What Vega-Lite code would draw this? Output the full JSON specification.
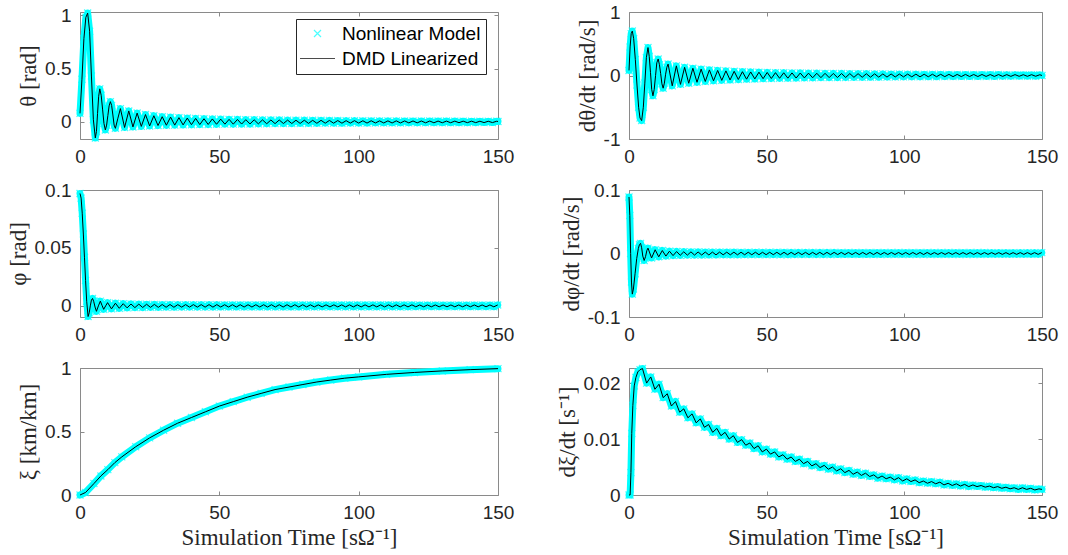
{
"$schema": "https://vega.github.io/schema/vega-lite/v6.json",
"background": "white",
"padding": {"left": 6, "top": 2, "right": 5, "bottom": 5},
"columns": 2,
"spacing": {"row": 51, "column": 131},
"bounds": "flush",
"config": {
 "view": {"stroke": "#8a8a8a", "strokeWidth": 1},
 "axis": {"domain": false, "grid": false, "labelFont": "Liberation Sans", "labelFontSize": 19, "labelColor": "#262626", "titleFont": "Liberation Serif", "titleFontSize": 23, "titleFontWeight": "normal", "titleColor": "#262626", "tickColor": "#8a8a8a", "tickSize": -4, "tickWidth": 1, "labelPadding": 13, "titlePadding": 4, "labelFlush": false, "labelOverlap": false, "labelExpr": "'' + datum.value"},
 "axisX": {"labelPadding": 12}
},
"datasets": {
"th": [{"t":0,"v":0.08},{"t":0.7,"v":0.4},{"t":1.4,"v":0.78},{"t":2.1,"v":0.98},{"t":2.75,"v":1.02},{"t":3.45,"v":0.85},{"t":4.1,"v":0.43},{"t":4.8,"v":0.02},{"t":5.5,"v":-0.15},{"t":5.9,"v":-0.09},{"t":6.3,"v":0.08},{"t":6.7,"v":0.24},{"t":7.1,"v":0.31},{"t":7.6,"v":0.25},{"t":8.1,"v":0.12},{"t":8.6,"v":-0.015},{"t":9.1,"v":-0.075},{"t":9.55,"v":-0.03},{"t":10,"v":0.06},{"t":10.45,"v":0.15},{"t":10.9,"v":0.19},{"t":11.35,"v":0.155},{"t":11.8,"v":0.065},{"t":12.25,"v":-0.03},{"t":12.7,"v":-0.06},{"t":13.6,"v":0.035},{"t":14.5,"v":0.125},
{"t":16,"v":-0.052},{"t":17.5,"v":0.103},{"t":19,"v":-0.047},{"t":20.5,"v":0.083},{"t":22,"v":-0.042},{"t":23.5,"v":0.069},{"t":25,"v":-0.038},{"t":26.5,"v":0.058},{"t":28,"v":-0.034},{"t":29.5,"v":0.049},{"t":31,"v":-0.031},{"t":32.5,"v":0.045},{"t":34,"v":-0.03},{"t":35.5,"v":0.04},{"t":37,"v":-0.028},{"t":38.5,"v":0.036},{"t":40,"v":-0.026},{"t":41.5,"v":0.033},{"t":43,"v":-0.025},{"t":44.5,"v":0.03},{"t":46,"v":-0.024},{"t":47.5,"v":0.028},{"t":49,"v":-0.022},{"t":50.5,"v":0.026},{"t":52,"v":-0.021},{"t":53.5,"v":0.024},{"t":55,"v":-0.021},{"t":56.5,"v":0.023},{"t":58,"v":-0.02},{"t":59.5,"v":0.021},{"t":61,"v":-0.019},{"t":62.5,"v":0.02},{"t":64,"v":-0.018},{"t":65.5,"v":0.019},{"t":67,"v":-0.017},{"t":68.5,"v":0.018},{"t":70,"v":-0.016},{"t":71.5,"v":0.018},{"t":73,"v":-0.015},{"t":74.5,"v":0.017},{"t":76,"v":-0.015},{"t":77.5,"v":0.016},{"t":79,"v":-0.014},{"t":80.5,"v":0.016},{"t":82,"v":-0.014},{"t":83.5,"v":0.015},{"t":85,"v":-0.013},{"t":86.5,"v":0.015},{"t":88,"v":-0.012},{"t":89.5,"v":0.014},{"t":91,"v":-0.012},{"t":92.5,"v":0.013},{"t":94,"v":-0.012},{"t":95.5,"v":0.012},{"t":97,"v":-0.011},{"t":98.5,"v":0.012},{"t":100,"v":-0.011},{"t":101.5,"v":0.011},{"t":103,"v":-0.011},{"t":104.5,"v":0.011},{"t":106,"v":-0.01},{"t":107.5,"v":0.01},{"t":109,"v":-0.01},{"t":110.5,"v":0.01},{"t":112,"v":-0.01},{"t":113.5,"v":0.01},{"t":115,"v":-0.0095},{"t":116.5,"v":0.0094},{"t":118,"v":-0.0092},{"t":119.5,"v":0.0091},{"t":121,"v":-0.0089},{"t":122.5,"v":0.0088},{"t":124,"v":-0.0086},{"t":125.5,"v":0.0085},{"t":127,"v":-0.0083},{"t":128.5,"v":0.0082},{"t":130,"v":-0.008},{"t":131.5,"v":0.0079},{"t":133,"v":-0.0077},{"t":134.5,"v":0.0076},{"t":136,"v":-0.0074},{"t":137.5,"v":0.0073},{"t":139,"v":-0.0071},{"t":140.5,"v":0.007},{"t":142,"v":-0.0068},{"t":143.5,"v":0.0067},{"t":145,"v":-0.0065},{"t":146.5,"v":0.0064},{"t":148,"v":-0.0062},{"t":149.5,"v":0.0061},{"t":150,"v":0.004}],
"dth": [{"t":0,"v":0.08},{"t":0.4,"v":0.45},{"t":0.8,"v":0.66},{"t":1.2,"v":0.7},{"t":1.7,"v":0.58},{"t":2.3,"v":0.25},{"t":2.9,"v":-0.15},{"t":3.5,"v":-0.5},{"t":4,"v":-0.67},{"t":4.6,"v":-0.71},{"t":5.2,"v":-0.5},{"t":5.75,"v":-0.12},{"t":6.3,"v":0.28},{"t":6.9,"v":0.44},{"t":7.35,"v":0.3},{"t":7.8,"v":0.05},{"t":8.25,"v":-0.22},{"t":8.7,"v":-0.32},{"t":9.15,"v":-0.22},{"t":9.65,"v":0},{"t":10.1,"v":0.2},{"t":10.6,"v":0.26},{"t":11.05,"v":0.17},{"t":11.5,"v":0.03},{"t":11.95,"v":-0.13},{"t":12.4,"v":-0.2},{"t":12.85,"v":-0.12},{"t":13.3,"v":0.02},{"t":13.75,"v":0.13},{"t":14.2,"v":0.18},
{"t":15.7,"v":-0.163},{"t":17.2,"v":0.152},{"t":18.7,"v":-0.14},{"t":20.2,"v":0.129},{"t":21.7,"v":-0.122},{"t":23.2,"v":0.114},{"t":24.7,"v":-0.107},{"t":26.2,"v":0.1},{"t":27.7,"v":-0.094},{"t":29.2,"v":0.088},{"t":30.7,"v":-0.083},{"t":32.2,"v":0.08},{"t":33.7,"v":-0.077},{"t":35.2,"v":0.073},{"t":36.7,"v":-0.07},{"t":38.2,"v":0.066},{"t":39.7,"v":-0.063},{"t":41.2,"v":0.06},{"t":42.7,"v":-0.058},{"t":44.2,"v":0.056},{"t":45.7,"v":-0.054},{"t":47.2,"v":0.052},{"t":48.7,"v":-0.05},{"t":50.2,"v":0.048},{"t":51.7,"v":-0.047},{"t":53.2,"v":0.045},{"t":54.7,"v":-0.044},{"t":56.2,"v":0.043},{"t":57.7,"v":-0.042},{"t":59.2,"v":0.041},{"t":60.7,"v":-0.04},{"t":62.2,"v":0.039},{"t":63.7,"v":-0.038},{"t":65.2,"v":0.037},{"t":66.7,"v":-0.036},{"t":68.2,"v":0.035},{"t":69.7,"v":-0.034},{"t":71.2,"v":0.034},{"t":72.7,"v":-0.033},{"t":74.2,"v":0.032},{"t":75.7,"v":-0.032},{"t":77.2,"v":0.031},{"t":78.7,"v":-0.031},{"t":80.2,"v":0.03},{"t":81.7,"v":-0.029},{"t":83.2,"v":0.029},{"t":84.7,"v":-0.028},{"t":86.2,"v":0.028},{"t":87.7,"v":-0.027},{"t":89.2,"v":0.026},{"t":90.7,"v":-0.026},{"t":92.2,"v":0.025},{"t":93.7,"v":-0.025},{"t":95.2,"v":0.024},{"t":96.7,"v":-0.023},{"t":98.2,"v":0.023},{"t":99.7,"v":-0.022},{"t":101.2,"v":0.022},{"t":102.7,"v":-0.021},{"t":104.2,"v":0.021},{"t":105.7,"v":-0.021},{"t":107.2,"v":0.02},{"t":108.7,"v":-0.02},{"t":110.2,"v":0.02},{"t":111.7,"v":-0.019},{"t":113.2,"v":0.019},{"t":114.7,"v":-0.018},{"t":116.2,"v":0.018},{"t":117.7,"v":-0.018},{"t":119.2,"v":0.017},{"t":120.7,"v":-0.017},{"t":122.2,"v":0.017},{"t":123.7,"v":-0.016},{"t":125.2,"v":0.016},{"t":126.7,"v":-0.016},{"t":128.2,"v":0.016},{"t":129.7,"v":-0.015},{"t":131.2,"v":0.015},{"t":132.7,"v":-0.015},{"t":134.2,"v":0.015},{"t":135.7,"v":-0.014},{"t":137.2,"v":0.014},{"t":138.7,"v":-0.014},{"t":140.2,"v":0.014},{"t":141.7,"v":-0.013},{"t":143.2,"v":0.013},{"t":144.7,"v":-0.013},{"t":146.2,"v":0.013},{"t":147.7,"v":-0.012},{"t":149.2,"v":0.012},{"t":150,"v":0}],
"ph": [{"t":0,"v":0.097},{"t":0.4,"v":0.093},{"t":0.8,"v":0.08},{"t":1.2,"v":0.062},{"t":1.6,"v":0.042},{"t":2,"v":0.022},{"t":2.4,"v":0.004},{"t":2.9,"v":-0.0092},{"t":3.3,"v":-0.006},{"t":3.7,"v":0},{"t":4.1,"v":0.005},{"t":4.5,"v":0.0064},{"t":4.9,"v":0.004},{"t":5.4,"v":-0.001},{"t":5.9,"v":-0.0047},{"t":6.6,"v":0},{"t":7.3,"v":0.0041},{"t":7.9,"v":0.0005},{"t":8.5,"v":-0.003},{"t":9.2,"v":0},{"t":9.9,"v":0.0028},
{"t":11.3,"v":-0.0026},{"t":12.7,"v":0.0023},{"t":14.1,"v":-0.0021},{"t":15.5,"v":0.0019},{"t":16.9,"v":-0.0017},{"t":18.3,"v":0.0016},{"t":19.7,"v":-0.0015},{"t":21.1,"v":0.0015},{"t":22.5,"v":-0.0014},{"t":23.9,"v":0.0014},{"t":25.3,"v":-0.0013},{"t":26.7,"v":0.0013},{"t":28.1,"v":-0.0013},{"t":29.5,"v":0.0012},{"t":30.9,"v":-0.0012},{"t":32.3,"v":0.0012},{"t":33.7,"v":-0.0012},{"t":35.1,"v":0.0011},{"t":36.5,"v":-0.0011},{"t":37.9,"v":0.0011},{"t":39.3,"v":-0.0011},{"t":40.7,"v":0.0011},{"t":42.1,"v":-0.0011},{"t":43.5,"v":0.0011},{"t":44.9,"v":-0.0011},{"t":46.3,"v":0.0011},{"t":47.7,"v":-0.0011},{"t":49.1,"v":0.0011},{"t":50.5,"v":-0.001},{"t":51.9,"v":0.001},{"t":53.3,"v":-0.001},{"t":54.7,"v":0.001},{"t":56.1,"v":-0.001},{"t":57.5,"v":0.001},{"t":58.9,"v":-0.001},{"t":60.3,"v":0.001},{"t":61.7,"v":-0.001},{"t":63.1,"v":0.001},{"t":64.5,"v":-0.001},{"t":65.9,"v":0.001},{"t":67.3,"v":-0.001},{"t":68.7,"v":0.001},{"t":70.1,"v":-0.001},{"t":71.5,"v":0.001},{"t":72.9,"v":-0.001},{"t":74.3,"v":0.001},{"t":75.7,"v":-0.001},{"t":77.1,"v":0.001},{"t":78.5,"v":-0.001},{"t":79.9,"v":0.001},{"t":81.3,"v":-0.0009},{"t":82.7,"v":0.0009},{"t":84.1,"v":-0.0009},{"t":85.5,"v":0.0009},{"t":86.9,"v":-0.0009},{"t":88.3,"v":0.0009},{"t":89.7,"v":-0.0009},{"t":91.1,"v":0.0009},{"t":92.5,"v":-0.0009},{"t":93.9,"v":0.0009},{"t":95.3,"v":-0.0009},{"t":96.7,"v":0.0009},{"t":98.1,"v":-0.0009},{"t":99.5,"v":0.0009},{"t":100.9,"v":-0.0009},{"t":102.3,"v":0.0009},{"t":103.7,"v":-0.0009},{"t":105.1,"v":0.0009},{"t":106.5,"v":-0.0009},{"t":107.9,"v":0.0009},{"t":109.3,"v":-0.0009},{"t":110.7,"v":0.0009},{"t":112.1,"v":-0.0009},{"t":113.5,"v":0.0009},{"t":114.9,"v":-0.0009},{"t":116.3,"v":0.0009},{"t":117.7,"v":-0.0009},{"t":119.1,"v":0.0009},{"t":120.5,"v":-0.0008},{"t":121.9,"v":0.0008},{"t":123.3,"v":-0.0008},{"t":124.7,"v":0.0008},{"t":126.1,"v":-0.0008},{"t":127.5,"v":0.0008},{"t":128.9,"v":-0.0008},{"t":130.3,"v":0.0008},{"t":131.7,"v":-0.0008},{"t":133.1,"v":0.0008},{"t":134.5,"v":-0.0008},{"t":135.9,"v":0.0008},{"t":137.3,"v":-0.0008},{"t":138.7,"v":0.0008},{"t":140.1,"v":-0.0008},{"t":141.5,"v":0.0008},{"t":142.9,"v":-0.0008},{"t":144.3,"v":0.0008},{"t":145.7,"v":-0.0008},{"t":147.1,"v":0.0008},{"t":148.5,"v":-0.0008},{"t":149.9,"v":0.0008}],
"dph": [{"t":0,"v":0.089},{"t":0.3,"v":0.06},{"t":0.6,"v":0},{"t":0.9,"v":-0.045},{"t":1.2,"v":-0.064},{"t":1.6,"v":-0.056},{"t":2.2,"v":-0.032},{"t":2.8,"v":-0.008},{"t":3.4,"v":0.008},{"t":3.8,"v":0.014},{"t":4.2,"v":0.016},{"t":4.6,"v":0.009},{"t":5,"v":-0.004},{"t":5.5,"v":-0.011},{"t":6,"v":-0.005},{"t":6.5,"v":0.005},{"t":6.9,"v":0.0085},
{"t":8.2,"v":-0.007},{"t":9.5,"v":0.0059},{"t":10.8,"v":-0.0052},{"t":12.1,"v":0.0047},{"t":13.4,"v":-0.0041},{"t":14.7,"v":0.0036},{"t":16,"v":-0.0033},{"t":17.3,"v":0.0031},{"t":18.6,"v":-0.0029},{"t":19.9,"v":0.0027},{"t":21.2,"v":-0.0026},{"t":22.5,"v":0.0026},{"t":23.8,"v":-0.0025},{"t":25.1,"v":0.0024},{"t":26.4,"v":-0.0024},{"t":27.7,"v":0.0023},{"t":29,"v":-0.0023},{"t":30.3,"v":0.0022},{"t":31.6,"v":-0.0022},{"t":32.9,"v":0.0022},{"t":34.2,"v":-0.0021},{"t":35.5,"v":0.0021},{"t":36.8,"v":-0.0021},{"t":38.1,"v":0.0021},{"t":39.4,"v":-0.0021},{"t":40.7,"v":0.002},{"t":42,"v":-0.002},{"t":43.3,"v":0.002},{"t":44.6,"v":-0.002},{"t":45.9,"v":0.002},{"t":47.2,"v":-0.0019},{"t":48.5,"v":0.0019},{"t":49.8,"v":-0.0019},{"t":51.1,"v":0.0019},{"t":52.4,"v":-0.0019},{"t":53.7,"v":0.0019},{"t":55,"v":-0.0019},{"t":56.3,"v":0.0019},{"t":57.6,"v":-0.0019},{"t":58.9,"v":0.0018},{"t":60.2,"v":-0.0018},{"t":61.5,"v":0.0018},{"t":62.8,"v":-0.0018},{"t":64.1,"v":0.0018},{"t":65.4,"v":-0.0018},{"t":66.7,"v":0.0018},{"t":68,"v":-0.0018},{"t":69.3,"v":0.0018},{"t":70.6,"v":-0.0018},{"t":71.9,"v":0.0018},{"t":73.2,"v":-0.0018},{"t":74.5,"v":0.0018},{"t":75.8,"v":-0.0017},{"t":77.1,"v":0.0017},{"t":78.4,"v":-0.0017},{"t":79.7,"v":0.0017},{"t":81,"v":-0.0017},{"t":82.3,"v":0.0017},{"t":83.6,"v":-0.0017},{"t":84.9,"v":0.0017},{"t":86.2,"v":-0.0017},{"t":87.5,"v":0.0017},{"t":88.8,"v":-0.0017},{"t":90.1,"v":0.0017},{"t":91.4,"v":-0.0017},{"t":92.7,"v":0.0016},{"t":94,"v":-0.0016},{"t":95.3,"v":0.0016},{"t":96.6,"v":-0.0016},{"t":97.9,"v":0.0016},{"t":99.2,"v":-0.0016},{"t":100.5,"v":0.0016},{"t":101.8,"v":-0.0016},{"t":103.1,"v":0.0016},{"t":104.4,"v":-0.0016},{"t":105.7,"v":0.0016},{"t":107,"v":-0.0016},{"t":108.3,"v":0.0016},{"t":109.6,"v":-0.0016},{"t":110.9,"v":0.0015},{"t":112.2,"v":-0.0015},{"t":113.5,"v":0.0015},{"t":114.8,"v":-0.0015},{"t":116.1,"v":0.0015},{"t":117.4,"v":-0.0015},{"t":118.7,"v":0.0015},{"t":120,"v":-0.0015},{"t":121.3,"v":0.0015},{"t":122.6,"v":-0.0015},{"t":123.9,"v":0.0015},{"t":125.2,"v":-0.0015},{"t":126.5,"v":0.0015},{"t":127.8,"v":-0.0015},{"t":129.1,"v":0.0015},{"t":130.4,"v":-0.0014},{"t":131.7,"v":0.0014},{"t":133,"v":-0.0014},{"t":134.3,"v":0.0014},{"t":135.6,"v":-0.0014},{"t":136.9,"v":0.0014},{"t":138.2,"v":-0.0014},{"t":139.5,"v":0.0014},{"t":140.8,"v":-0.0014},{"t":142.1,"v":0.0014},{"t":143.4,"v":-0.0014},{"t":144.7,"v":0.0014},{"t":146,"v":-0.0014},{"t":147.3,"v":0.0014},{"t":148.6,"v":-0.0014},{"t":149.9,"v":0.0014}],
"xi": [{"t":0,"v":0},{"t":2,"v":0.02},{"t":5,"v":0.09},{"t":7.5,"v":0.15},{"t":10,"v":0.2},{"t":12.5,"v":0.255},{"t":15,"v":0.3},{"t":20,"v":0.38},{"t":25,"v":0.45},{"t":30,"v":0.51},{"t":35,"v":0.565},{"t":40,"v":0.61},{"t":45,"v":0.655},{"t":50,"v":0.7},{"t":55,"v":0.735},{"t":60,"v":0.77},{"t":65,"v":0.8},{"t":70,"v":0.83},{"t":75,"v":0.85},{"t":80,"v":0.87},{"t":85,"v":0.89},{"t":90,"v":0.905},{"t":95,"v":0.92},{"t":100,"v":0.93},{"t":110,"v":0.95},{"t":120,"v":0.965},{"t":130,"v":0.977},{"t":140,"v":0.987},{"t":150,"v":0.995}],
"dxi": [{"t":0,"v":0},{"t":0.4,"v":0},{"t":0.7,"v":0.004},{"t":1,"v":0.011},{"t":1.4,"v":0.016},{"t":1.9,"v":0.0195},{"t":2.5,"v":0.021},{"t":3.2,"v":0.022},{"t":4,"v":0.0224},{"t":4.9,"v":0.0226},
{"t":6.4,"v":0.02},{"t":7.9,"v":0.0211},{"t":9.4,"v":0.0189},{"t":10.9,"v":0.0198},{"t":12.4,"v":0.0174},{"t":13.9,"v":0.0181},{"t":15.4,"v":0.0159},{"t":16.9,"v":0.0167},{"t":18.4,"v":0.0148},{"t":19.9,"v":0.0154},{"t":21.4,"v":0.0138},{"t":22.9,"v":0.0145},{"t":24.4,"v":0.0129},{"t":25.9,"v":0.0136},{"t":27.4,"v":0.0121},{"t":28.9,"v":0.0126},{"t":30.4,"v":0.0112},{"t":31.9,"v":0.0119},{"t":33.4,"v":0.0106},{"t":34.9,"v":0.0112},{"t":36.4,"v":0.01},{"t":37.9,"v":0.0106},{"t":39.4,"v":0.0094},{"t":40.9,"v":0.0099},{"t":42.4,"v":0.0089},{"t":43.9,"v":0.0093},{"t":45.4,"v":0.0083},{"t":46.9,"v":0.0088},{"t":48.4,"v":0.0077},{"t":49.9,"v":0.0082},{"t":51.4,"v":0.0073},{"t":52.9,"v":0.0077},{"t":54.4,"v":0.0068},{"t":55.9,"v":0.0072},{"t":57.4,"v":0.0064},{"t":58.9,"v":0.0068},{"t":60.4,"v":0.006},{"t":61.9,"v":0.0064},{"t":63.4,"v":0.0056},{"t":64.9,"v":0.006},{"t":66.4,"v":0.0052},{"t":67.9,"v":0.0056},{"t":69.4,"v":0.0049},{"t":70.9,"v":0.0053},{"t":72.4,"v":0.0046},{"t":73.9,"v":0.005},{"t":75.4,"v":0.0043},{"t":76.9,"v":0.0047},{"t":78.4,"v":0.004},{"t":79.9,"v":0.0044},{"t":81.4,"v":0.0037},{"t":82.9,"v":0.0041},{"t":84.4,"v":0.0035},{"t":85.9,"v":0.0039},{"t":87.4,"v":0.0033},{"t":88.9,"v":0.0036},{"t":90.4,"v":0.003},{"t":91.9,"v":0.0034},{"t":93.4,"v":0.0029},{"t":94.9,"v":0.0032},{"t":96.4,"v":0.0027},{"t":97.9,"v":0.0031},{"t":99.4,"v":0.0025},{"t":100.9,"v":0.0029},{"t":102.4,"v":0.0024},{"t":103.9,"v":0.0027},{"t":105.4,"v":0.0022},{"t":106.9,"v":0.0025},{"t":108.4,"v":0.0021},{"t":109.9,"v":0.0024},{"t":111.4,"v":0.002},{"t":112.9,"v":0.0023},{"t":114.4,"v":0.0018},{"t":115.9,"v":0.0021},{"t":117.4,"v":0.0017},{"t":118.9,"v":0.002},{"t":120.4,"v":0.0016},{"t":121.9,"v":0.0019},{"t":123.4,"v":0.0015},{"t":124.9,"v":0.0018},{"t":126.4,"v":0.0015},{"t":127.9,"v":0.0017},{"t":129.4,"v":0.0014},{"t":130.9,"v":0.0016},{"t":132.4,"v":0.0013},{"t":133.9,"v":0.0015},{"t":135.4,"v":0.0012},{"t":136.9,"v":0.0014},{"t":138.4,"v":0.0011},{"t":139.9,"v":0.0013},{"t":141.4,"v":0.001},{"t":142.9,"v":0.0013},{"t":144.4,"v":0.001},{"t":145.9,"v":0.0012},{"t":147.4,"v":0.0009},{"t":148.9,"v":0.0011},{"t":150,"v":0.001}]
},
"concat": [
{"width": 418, "height": 127, "data": {"name": "th"},
 "layer": [
  {"mark": {"type": "line", "color": "#00ffff", "strokeWidth": 7, "strokeJoin": "round", "strokeCap": "round"},
   "encoding": {"x": {"field": "t", "type": "quantitative", "scale": {"domain": [0,150], "nice": false, "zero": false}, "axis": {"values": [0,50,100,150], "title": null}},
    "y": {"field": "v", "type": "quantitative", "scale": {"domain": [-0.16,1.03], "nice": false, "zero": false}, "axis": {"values": [0,0.5,1], "title": "θ [rad]"}}}},
  {"mark": {"type": "point", "filled": false, "size": 306, "strokeWidth": 1.3},
   "encoding": {"x": {"field": "t", "type": "quantitative", "scale": {"domain": [0,150], "nice": false, "zero": false}, "axis": {"orient": "top", "values": [0,50,100,150], "labels": false, "title": null}},
    "y": {"field": "v", "type": "quantitative", "scale": {"domain": [-0.16,1.03], "nice": false, "zero": false}, "axis": {"orient": "right", "values": [0,0.5,1], "labels": false, "title": null}},
    "color": {"datum": "Nonlinear Model", "type": "nominal", "scale": {"domain": ["Nonlinear Model","DMD Linearized"], "range": ["#00ffff","#000000"]},
      "legend": {"title": null, "orient": "none", "legendX": 216, "legendY": 7, "strokeColor": "#262626", "fillColor": "white", "padding": 5, "rowPadding": 5, "labelFont": "Liberation Sans", "labelFontSize": 19, "labelColor": "#000000", "symbolSize": 306, "symbolStrokeWidth": 1.2, "symbolOffset": 7, "labelOffset": 15}},
    "shape": {"datum": "Nonlinear Model", "type": "nominal", "scale": {"domain": ["Nonlinear Model","DMD Linearized"], "range": ["M-0.4,-0.4L0.4,0.4M0.4,-0.4L-0.4,0.4","M-2,0L2,0"]},
      "legend": {"title": null, "orient": "none", "legendX": 216, "legendY": 7, "strokeColor": "#262626", "fillColor": "white", "padding": 5, "rowPadding": 5, "labelFont": "Liberation Sans", "labelFontSize": 19, "labelColor": "#000000", "symbolSize": 306, "symbolStrokeWidth": 1.2, "symbolOffset": 7, "labelOffset": 15}}}},
  {"mark": {"type": "line", "color": "#000000", "strokeWidth": 1},
   "encoding": {"x": {"field": "t", "type": "quantitative", "scale": {"domain": [0,150], "nice": false, "zero": false}, "axis": null},
    "y": {"field": "v", "type": "quantitative", "scale": {"domain": [-0.16,1.03], "nice": false, "zero": false}, "axis": null}}}
 ],
 "resolve": {"axis": {"x": "independent", "y": "independent"}}},
{"width": 413, "height": 127, "data": {"name": "dth"},
 "layer": [
  {"mark": {"type": "line", "color": "#00ffff", "strokeWidth": 7, "strokeJoin": "round", "strokeCap": "round"},
   "encoding": {"x": {"field": "t", "type": "quantitative", "scale": {"domain": [0,150], "nice": false, "zero": false}, "axis": {"values": [0,50,100,150], "title": null}},
    "y": {"field": "v", "type": "quantitative", "scale": {"domain": [-1,1], "nice": false, "zero": false}, "axis": {"values": [-1,0,1], "title": "dθ/dt [rad/s]"}}}},
  {"mark": {"type": "point", "filled": false, "size": 306, "strokeWidth": 1.3, "color": "#00ffff", "shape": "M-0.4,-0.4L0.4,0.4M0.4,-0.4L-0.4,0.4"},
   "encoding": {"x": {"field": "t", "type": "quantitative", "scale": {"domain": [0,150], "nice": false, "zero": false}, "axis": {"orient": "top", "values": [0,50,100,150], "labels": false, "title": null}},
    "y": {"field": "v", "type": "quantitative", "scale": {"domain": [-1,1], "nice": false, "zero": false}, "axis": {"orient": "right", "values": [-1,0,1], "labels": false, "title": null}}}},
  {"mark": {"type": "line", "color": "#000000", "strokeWidth": 1},
   "encoding": {"x": {"field": "t", "type": "quantitative", "scale": {"domain": [0,150], "nice": false, "zero": false}, "axis": null},
    "y": {"field": "v", "type": "quantitative", "scale": {"domain": [-1,1], "nice": false, "zero": false}, "axis": null}}}
 ],
 "resolve": {"axis": {"x": "independent", "y": "independent"}}},
{"width": 418, "height": 127, "data": {"name": "ph"},
 "layer": [
  {"mark": {"type": "line", "color": "#00ffff", "strokeWidth": 7, "strokeJoin": "round", "strokeCap": "round"},
   "encoding": {"x": {"field": "t", "type": "quantitative", "scale": {"domain": [0,150], "nice": false, "zero": false}, "axis": {"values": [0,50,100,150], "title": null}},
    "y": {"field": "v", "type": "quantitative", "scale": {"domain": [-0.0096,0.1], "nice": false, "zero": false}, "axis": {"values": [0,0.05,0.1], "title": "φ [rad]"}}}},
  {"mark": {"type": "point", "filled": false, "size": 306, "strokeWidth": 1.3, "color": "#00ffff", "shape": "M-0.4,-0.4L0.4,0.4M0.4,-0.4L-0.4,0.4"},
   "encoding": {"x": {"field": "t", "type": "quantitative", "scale": {"domain": [0,150], "nice": false, "zero": false}, "axis": {"orient": "top", "values": [0,50,100,150], "labels": false, "title": null}},
    "y": {"field": "v", "type": "quantitative", "scale": {"domain": [-0.0096,0.1], "nice": false, "zero": false}, "axis": {"orient": "right", "values": [0,0.05,0.1], "labels": false, "title": null}}}},
  {"mark": {"type": "line", "color": "#000000", "strokeWidth": 1},
   "encoding": {"x": {"field": "t", "type": "quantitative", "scale": {"domain": [0,150], "nice": false, "zero": false}, "axis": null},
    "y": {"field": "v", "type": "quantitative", "scale": {"domain": [-0.0096,0.1], "nice": false, "zero": false}, "axis": null}}}
 ],
 "resolve": {"axis": {"x": "independent", "y": "independent"}}},
{"width": 413, "height": 127, "data": {"name": "dph"},
 "layer": [
  {"mark": {"type": "line", "color": "#00ffff", "strokeWidth": 7, "strokeJoin": "round", "strokeCap": "round"},
   "encoding": {"x": {"field": "t", "type": "quantitative", "scale": {"domain": [0,150], "nice": false, "zero": false}, "axis": {"values": [0,50,100,150], "title": null}},
    "y": {"field": "v", "type": "quantitative", "scale": {"domain": [-0.1,0.1], "nice": false, "zero": false}, "axis": {"values": [-0.1,0,0.1], "title": "dφ/dt [rad/s]"}}}},
  {"mark": {"type": "point", "filled": false, "size": 306, "strokeWidth": 1.3, "color": "#00ffff", "shape": "M-0.4,-0.4L0.4,0.4M0.4,-0.4L-0.4,0.4"},
   "encoding": {"x": {"field": "t", "type": "quantitative", "scale": {"domain": [0,150], "nice": false, "zero": false}, "axis": {"orient": "top", "values": [0,50,100,150], "labels": false, "title": null}},
    "y": {"field": "v", "type": "quantitative", "scale": {"domain": [-0.1,0.1], "nice": false, "zero": false}, "axis": {"orient": "right", "values": [-0.1,0,0.1], "labels": false, "title": null}}}},
  {"mark": {"type": "line", "color": "#000000", "strokeWidth": 1},
   "encoding": {"x": {"field": "t", "type": "quantitative", "scale": {"domain": [0,150], "nice": false, "zero": false}, "axis": null},
    "y": {"field": "v", "type": "quantitative", "scale": {"domain": [-0.1,0.1], "nice": false, "zero": false}, "axis": null}}}
 ],
 "resolve": {"axis": {"x": "independent", "y": "independent"}}},
{"width": 418, "height": 127, "data": {"name": "xi"},
 "layer": [
  {"mark": {"type": "line", "color": "#00ffff", "strokeWidth": 7, "strokeJoin": "round", "strokeCap": "round"},
   "encoding": {"x": {"field": "t", "type": "quantitative", "scale": {"domain": [0,150], "nice": false, "zero": false}, "axis": {"values": [0,50,100,150], "title": "Simulation Time [sΩ⁻¹]"}},
    "y": {"field": "v", "type": "quantitative", "scale": {"domain": [0,1], "nice": false, "zero": false}, "axis": {"values": [0,0.5,1], "title": "ξ [km/km]"}}}},
  {"mark": {"type": "point", "filled": false, "size": 306, "strokeWidth": 1.3, "color": "#00ffff", "shape": "M-0.4,-0.4L0.4,0.4M0.4,-0.4L-0.4,0.4"},
   "encoding": {"x": {"field": "t", "type": "quantitative", "scale": {"domain": [0,150], "nice": false, "zero": false}, "axis": {"orient": "top", "values": [0,50,100,150], "labels": false, "title": null}},
    "y": {"field": "v", "type": "quantitative", "scale": {"domain": [0,1], "nice": false, "zero": false}, "axis": {"orient": "right", "values": [0,0.5,1], "labels": false, "title": null}}}},
  {"mark": {"type": "line", "color": "#000000", "strokeWidth": 1},
   "encoding": {"x": {"field": "t", "type": "quantitative", "scale": {"domain": [0,150], "nice": false, "zero": false}, "axis": null},
    "y": {"field": "v", "type": "quantitative", "scale": {"domain": [0,1], "nice": false, "zero": false}, "axis": null}}}
 ],
 "resolve": {"axis": {"x": "independent", "y": "independent"}}},
{"width": 413, "height": 127, "data": {"name": "dxi"},
 "layer": [
  {"mark": {"type": "line", "color": "#00ffff", "strokeWidth": 7, "strokeJoin": "round", "strokeCap": "round"},
   "encoding": {"x": {"field": "t", "type": "quantitative", "scale": {"domain": [0,150], "nice": false, "zero": false}, "axis": {"values": [0,50,100,150], "title": "Simulation Time [sΩ⁻¹]"}},
    "y": {"field": "v", "type": "quantitative", "scale": {"domain": [0,0.0227], "nice": false, "zero": false}, "axis": {"values": [0,0.01,0.02], "title": "dξ/dt [s⁻¹]"}}}},
  {"mark": {"type": "point", "filled": false, "size": 306, "strokeWidth": 1.3, "color": "#00ffff", "shape": "M-0.4,-0.4L0.4,0.4M0.4,-0.4L-0.4,0.4"},
   "encoding": {"x": {"field": "t", "type": "quantitative", "scale": {"domain": [0,150], "nice": false, "zero": false}, "axis": {"orient": "top", "values": [0,50,100,150], "labels": false, "title": null}},
    "y": {"field": "v", "type": "quantitative", "scale": {"domain": [0,0.0227], "nice": false, "zero": false}, "axis": {"orient": "right", "values": [0,0.01,0.02], "labels": false, "title": null}}}},
  {"mark": {"type": "line", "color": "#000000", "strokeWidth": 1},
   "encoding": {"x": {"field": "t", "type": "quantitative", "scale": {"domain": [0,150], "nice": false, "zero": false}, "axis": null},
    "y": {"field": "v", "type": "quantitative", "scale": {"domain": [0,0.0227], "nice": false, "zero": false}, "axis": null}}}
 ],
 "resolve": {"axis": {"x": "independent", "y": "independent"}}}
],
"resolve": {"scale": {"color": "independent", "shape": "independent"}, "legend": {"color": "independent", "shape": "independent"}}
}
